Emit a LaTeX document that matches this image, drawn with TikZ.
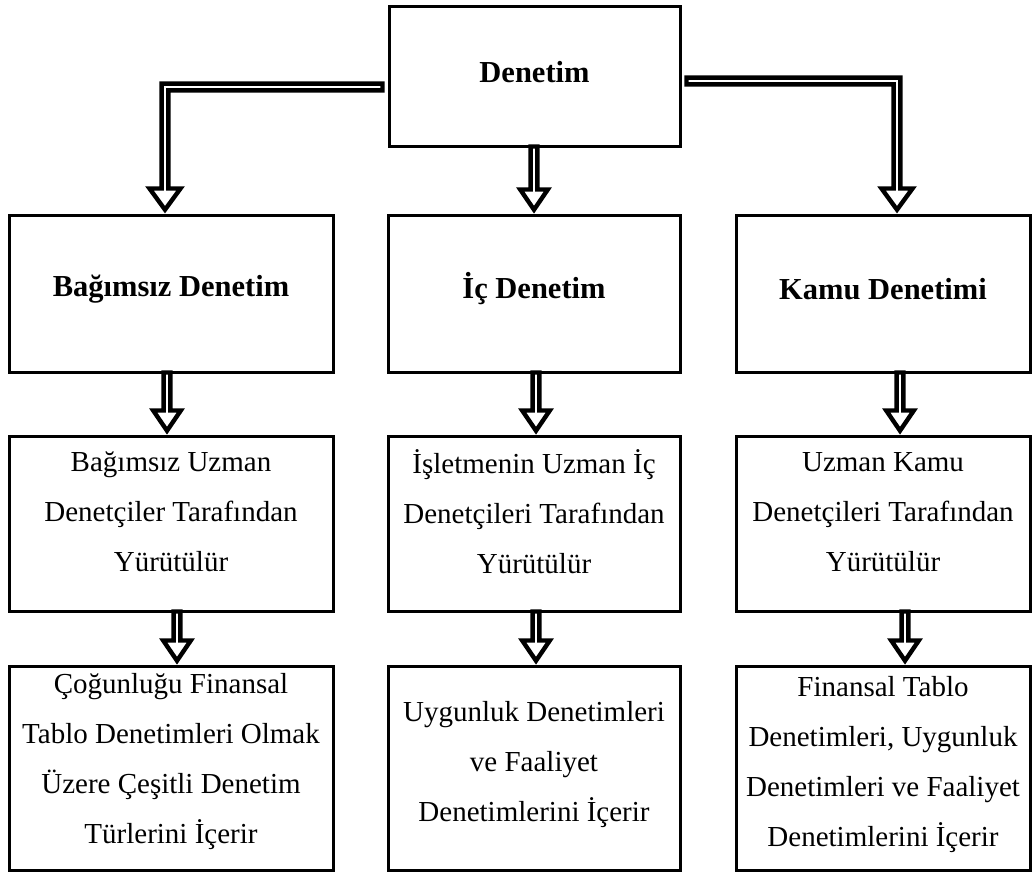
\documentclass[tikz,border=0pt]{standalone}
\usepackage{fontspec}
\setmainfont{Liberation Serif}
\usetikzlibrary{calc}

% straight hollow block arrow from the bottom of #1 to the top of #2 at x = #3
\newcommand\vblock[3]{%
  \draw[hollow] let \p1=(#1.south), \p2=(#2.north) in
    ({#3-3.4},{\y1+1pt}) -- ({#3-3.4},{\y2+24pt}) -- ({#3-13.8},{\y2+24pt})
    -- (#3,{\y2+3.8pt}) -- ({#3+13.8},{\y2+24pt}) -- ({#3+3.4},{\y2+24pt})
    -- ({#3+3.4},{\y1+1pt}) -- cycle;}

\begin{document}
\begin{tikzpicture}[x=1pt,y=-1pt,
  box/.style={draw, line width=3pt, inner sep=0pt},
  txt/.style={align=center, font=\fontsize{29}{50}\selectfont},
  txtb/.style={align=center, font=\fontsize{30.5}{50}\selectfont\bfseries},
  hollow/.style={draw, fill=white, line width=4.4pt, line join=miter, miter limit=10}]
\useasboundingbox (0,0) rectangle (1032,872);

% boxes
\node[box, minimum width=291pt, minimum height=139pt] (top) at (534.5,76.5) {};
\node[box, minimum width=324pt, minimum height=157pt] (b2l) at (171,293.5) {};
\node[box, minimum width=292pt, minimum height=157pt] (b2m) at (534,293.5) {};
\node[box, minimum width=294pt, minimum height=157pt] (b2r) at (883,293.5) {};
\node[box, minimum width=324pt, minimum height=175pt] (b3l) at (171,523.5) {};
\node[box, minimum width=292pt, minimum height=175pt] (b3m) at (534,523.5) {};
\node[box, minimum width=294pt, minimum height=175pt] (b3r) at (883,523.5) {};
\node[box, minimum width=324pt, minimum height=204pt] (b4l) at (171,768) {};
\node[box, minimum width=292pt, minimum height=204pt] (b4m) at (534,768) {};
\node[box, minimum width=294pt, minimum height=204pt] (b4r) at (883,768) {};

% texts
\node[txtb] (ttop) at (534.5,72) {Denetim};
\node[txtb] (t2l) at (171,289) {Bağımsız Denetim};
\node[txtb] (t2m) at (534,289) {İç Denetim};
\node[txtb] (t2r) at (883,289) {Kamu Denetimi};
\node[txt] (t3l) at (171,512) {Bağımsız Uzman\\Denetçiler Tarafından\\Yürütülür};
\node[txt] (t3m) at (534,512) {İşletmenin Uzman İç\\Denetçileri Tarafından\\Yürütülür};
\node[txt] (t3r) at (883,512) {Uzman Kamu\\Denetçileri Tarafından\\Yürütülür};
\node[txt] (t4l) at (171,762) {Çoğunluğu Finansal\\Tablo Denetimleri Olmak\\Üzere Çeşitli Denetim\\Türlerini İçerir};
\node[txt] (t4m) at (534,765) {Uygunluk Denetimleri\\ve Faaliyet\\Denetimlerini İçerir};
\node[txt] (t4r) at (883,765) {Finansal Tablo\\Denetimleri, Uygunluk\\Denetimleri ve Faaliyet\\Denetimlerini İçerir};

% elbow arrows from the top box
\draw[hollow] let \p1=(top.west), \p2=(b2l.north) in
  ({\x1-5pt},-83.6pt) -- (161.6pt,-83.6pt) -- (161.6pt,{\y2+25pt})
  -- (149.5pt,{\y2+25pt}) -- (165pt,{\y2+3.8pt}) -- (180.5pt,{\y2+25pt})
  -- (168.4pt,{\y2+25pt}) -- (168.4pt,-90.4pt) -- ({\x1-5pt},-90.4pt) -- cycle;
\draw[hollow] let \p1=(top.east), \p2=(b2r.north) in
  ({\x1+5pt},-77.6pt) -- (900.4pt,-77.6pt) -- (900.4pt,{\y2+25pt})
  -- (912.5pt,{\y2+25pt}) -- (897pt,{\y2+3.8pt}) -- (881.5pt,{\y2+25pt})
  -- (893.6pt,{\y2+25pt}) -- (893.6pt,-84.4pt) -- ({\x1+5pt},-84.4pt) -- cycle;

% straight arrows
\vblock{top}{b2m}{534}
\vblock{b2l}{b3l}{167}
\vblock{b2m}{b3m}{536}
\vblock{b2r}{b3r}{900}
\vblock{b3l}{b4l}{177}
\vblock{b3m}{b4m}{536}
\vblock{b3r}{b4r}{905}
\end{tikzpicture}
\end{document}
